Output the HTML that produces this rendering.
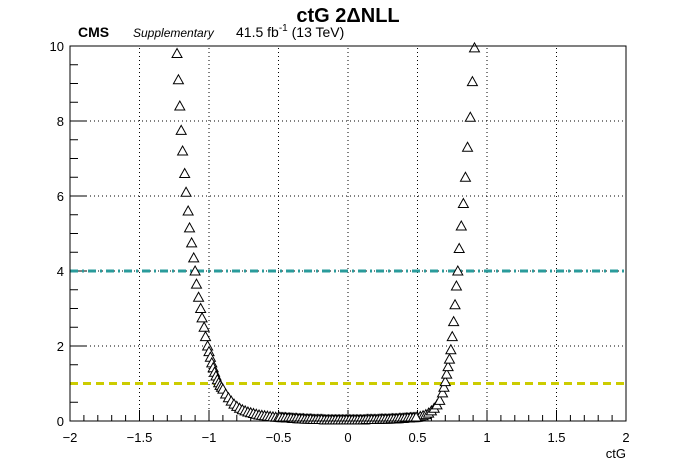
<!DOCTYPE html>
<html><head><meta charset="utf-8"><style>
body{margin:0;background:#fff;}
svg{display:block;font-family:"Liberation Sans",sans-serif;}
</style></head><body>
<svg id="chart" width="696" height="472" viewBox="0 0 696 472">
<rect width="696" height="472" fill="#fff"/>
<text x="348" y="22" text-anchor="middle" font-size="20" font-weight="bold">ctG 2ΔNLL</text>
<text x="78" y="37" font-size="14" font-weight="bold">CMS</text>
<text x="133" y="37" font-size="12" font-style="italic">Supplementary</text>
<text x="236" y="37" font-size="14">41.5 fb<tspan dy="-6" font-size="10">-1</tspan><tspan dy="6"> (13 TeV)</tspan></text>
<text x="626" y="458" text-anchor="end" font-size="13">ctG</text>
<g id="grid"></g><g id="axes"></g><g id="lines"></g><g id="points"></g>
<rect x="70" y="46" width="556" height="375" fill="none" stroke="#000" stroke-width="1"/>
</svg>
<script>
const xVals=[-1.23,-1.22,-1.21,-1.20,-1.19,-1.175,-1.165,-1.15,-1.14,-1.125,-1.11,-1.10,-1.09,-1.075,-1.06,-1.05,-1.035,-1.025,-1.01,-1.0,-0.99,-0.98,-0.97,-0.96,-0.95,-0.94,-0.93,-0.92,-0.91,-0.90,-0.88,-0.86,-0.84,-0.82,-0.80,-0.78,-0.76,-0.74,-0.72,-0.70,-0.68,-0.66,-0.64,-0.62,-0.60,-0.58,-0.56,-0.54,-0.52,-0.50,-0.48,-0.46,-0.44,-0.42,-0.40,-0.38,-0.36,-0.34,-0.32,-0.30,-0.28,-0.26,-0.24,-0.22,-0.20,-0.18,-0.16,-0.14,-0.12,-0.10,-0.08,-0.06,-0.04,-0.02,0,0.02,0.04,0.06,0.08,0.10,0.12,0.14,0.16,0.18,0.20,0.22,0.24,0.26,0.28,0.30,0.32,0.34,0.36,0.38,0.40,0.42,0.44,0.46,0.48,0.50,0.52,0.54,0.56,0.58,0.60,0.62,0.64,0.66,0.68,0.69,0.70,0.71,0.72,0.73,0.74,0.75,0.76,0.77,0.78,0.79,0.80,0.815,0.83,0.845,0.86,0.88,0.895,0.91,-0.49,-0.47,-0.45,-0.43,-0.41,-0.39,-0.37,-0.35,-0.33,-0.31,-0.29,-0.27,-0.25,-0.23,-0.21,-0.19,-0.17,-0.15,-0.13,-0.11,-0.09,-0.07,-0.05,-0.03,-0.01,0.01,0.03,0.05,0.07,0.09,0.11,0.13,0.15,0.17,0.19,0.21,0.23,0.25,0.27,0.29,0.31,0.33,0.35,0.37,0.39,0.41,0.43,0.45,0.47,0.49];
const yVals=[9.8,9.1,8.4,7.75,7.2,6.6,6.1,5.6,5.15,4.75,4.35,4.0,3.65,3.3,3.0,2.75,2.5,2.25,2.0,1.85,1.7,1.55,1.42,1.3,1.2,1.1,1.02,0.95,0.9,0.85,0.72,0.62,0.53,0.45,0.39,0.34,0.3,0.27,0.24,0.22,0.2,0.18,0.16,0.15,0.14,0.13,0.12,0.11,0.1,0.1,0.09,0.09,0.08,0.08,0.07,0.07,0.06,0.06,0.06,0.05,0.05,0.05,0.04,0.04,0.04,0.04,0.03,0.03,0.03,0.03,0.03,0.03,0.03,0.03,0.03,0.03,0.03,0.03,0.03,0.03,0.03,0.04,0.04,0.04,0.04,0.04,0.05,0.05,0.05,0.05,0.06,0.06,0.06,0.07,0.07,0.08,0.08,0.09,0.09,0.1,0.12,0.14,0.17,0.21,0.27,0.34,0.43,0.55,0.75,0.9,1.05,1.25,1.45,1.65,1.9,2.25,2.65,3.1,3.6,4.0,4.6,5.2,5.8,6.5,7.3,8.1,9.05,9.95,0.1,0.09,0.09,0.08,0.08,0.07,0.07,0.06,0.06,0.05,0.05,0.05,0.04,0.04,0.04,0.04,0.03,0.03,0.03,0.03,0.03,0.03,0.03,0.03,0.03,0.03,0.03,0.03,0.03,0.03,0.03,0.04,0.04,0.04,0.04,0.04,0.05,0.05,0.05,0.05,0.06,0.06,0.06,0.07,0.07,0.08,0.08,0.09,0.09,0.1];
const xTicks=[-2,-1.5,-1,-0.5,0,0.5,1,1.5,2];
const xTickLabels=["−2","−1.5","−1","−0.5","0","0.5","1","1.5","2"];
const yTicks=[0,2,4,6,8,10];
const thresholds=[4,1];
const NS="http://www.w3.org/2000/svg";
const X0=70,X1=626,Y0=421,Y1=46;
function sx(v){return X0+(v+2)/4*(X1-X0);}
function sy(v){return Y0-v/10*(Y0-Y1);}
function mk(t,a,p){const e=document.createElementNS(NS,t);for(const k in a)e.setAttribute(k,a[k]);p.appendChild(e);return e;}
const grid=document.getElementById('grid'),axes=document.getElementById('axes'),lines=document.getElementById('lines'),pts=document.getElementById('points');
xTicks.forEach((v,i)=>{
  if(i>0&&i<xTicks.length-1){const g=mk('line',{x1:sx(v),x2:sx(v),y1:Y0,y2:Y1,stroke:'#000','stroke-width':1,'stroke-dasharray':'1,3'},grid);
  
  }
  const t=mk('line',{x1:sx(v),x2:sx(v),y1:Y0,y2:Y0-11,stroke:'#000'},axes);
  
  
  const l=mk('text',{x:sx(v),y:442,'text-anchor':'middle','font-size':13},axes);
  
  
  l.textContent=xTickLabels[i];
});
for(let k=-20;k<=20;k++){if(k%5===0)continue;const v=k/10;
  const t=mk('line',{x1:sx(v),x2:sx(v),y1:Y0,y2:Y0-6,stroke:'#000'},axes);
  
  }
yTicks.forEach(v=>{
  if(v>0&&v<10){const g=mk('line',{x1:X0,x2:X1,y1:sy(v),y2:sy(v),stroke:'#000','stroke-width':1,'stroke-dasharray':'1,3'},grid);
  
  }
  const t=mk('line',{x1:X0,x2:X0+16,y1:sy(v),y2:sy(v),stroke:'#000'},axes);
  
  
  const l=mk('text',{x:64,y:sy(v)+5,'text-anchor':'end','font-size':13},axes);
  
  
  l.textContent=v;
});
for(let k=1;k<20;k++){if(k%4===0)continue;const v=k/2;
  const t=mk('line',{x1:X0,x2:X0+8,y1:sy(v),y2:sy(v),stroke:'#000'},axes);
  
  }
const l4=mk('line',{x1:X0,x2:X1,y1:sy(thresholds[0]),y2:sy(thresholds[0]),stroke:'#2a9b9b','stroke-width':3,'stroke-dasharray':'8,4,2,4'},lines);


const l1=mk('line',{x1:X0,x2:X1,y1:sy(thresholds[1]),y2:sy(thresholds[1]),stroke:'#cccc00','stroke-width':3,'stroke-dasharray':'8,5'},lines);


xVals.forEach((x,i)=>{const cx=sx(x),cy=sy(yVals[i]);
  const p=mk('polygon',{points:`${cx-5},${cy+4} ${cx+5},${cy+4} ${cx},${cy-5}`,fill:'#fff',stroke:'#000','stroke-width':1},pts);
  
  
});
</script>
</body></html>
